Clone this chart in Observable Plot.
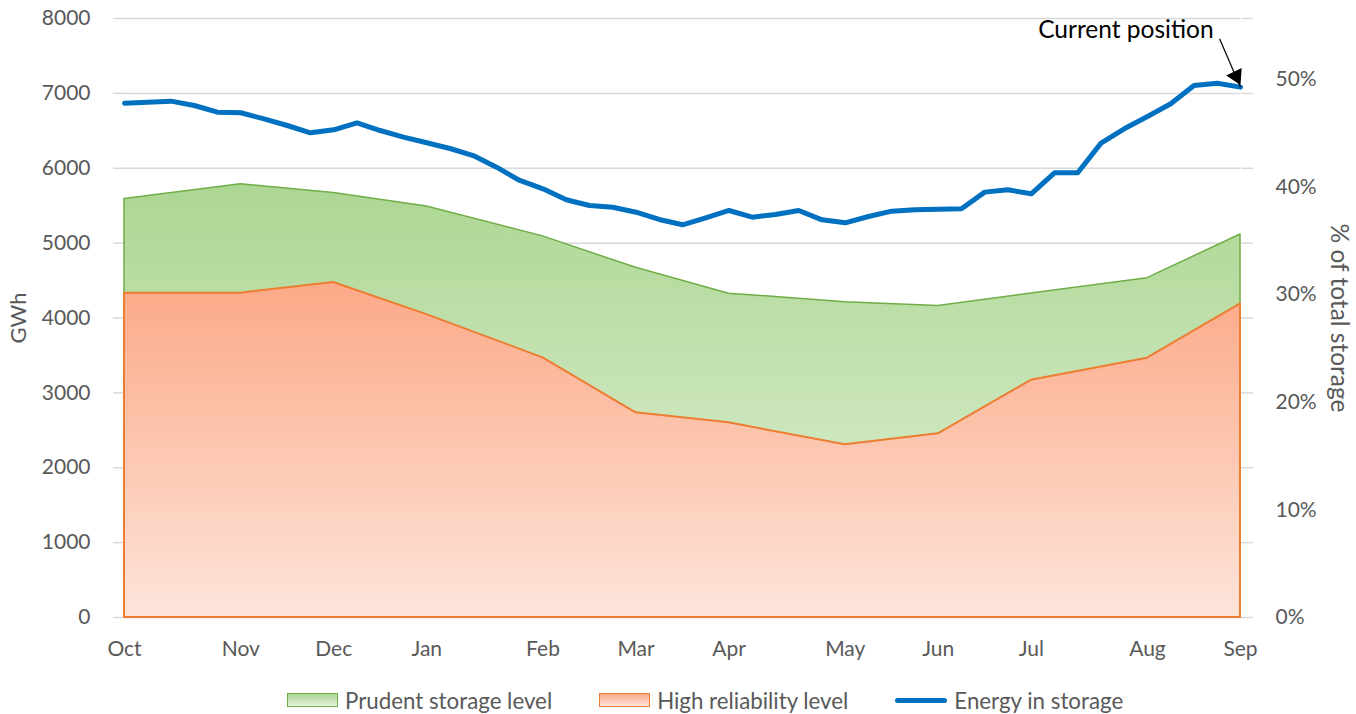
<!DOCTYPE html>
<html>
<head>
<meta charset="utf-8">
<script src="https://cdn.jsdelivr.net/npm/d3@7"></script>
<script src="https://cdn.jsdelivr.net/npm/@observablehq/plot@0.6"></script>
<style>
  body { margin: 0; background: #fff; font-family: Lato, "Open Sans", sans-serif; }
  #wrap { position: relative; width: 1356px; height: 714px; overflow: hidden; }
  #legend { position: absolute; left: 287px; top: 688px; height: 24px; display: flex; align-items: center; gap: 47px; font-size: 22.3px; color: #595959; white-space: nowrap; }
  .item { display: flex; align-items: center; gap: 7px; }
  .sw { width: 49px; height: 12px; }
  .sw.green { border: 1.5px solid #70ad47; background: linear-gradient(#acd692, #e4f2dc); }
  .sw.orange { border: 1.5px solid #ed7d31; background: linear-gradient(#fca987, #fde4da); }
  .ln { width: 52px; height: 5px; border-radius: 3px; background: #0070c0; }
</style>
</head>
<body>
<div id="wrap">
  <div id="chart"></div>
  <div id="legend">
    <div class="item"><div class="sw green"></div><span>Prudent storage level</span></div>
    <div class="item"><div class="sw orange"></div><span>High reliability level</span></div>
    <div class="item"><div class="ln"></div><span>Energy in storage</span></div>
  </div>
</div>
<script>
// ---- data ----
const monthLabels = ["Oct","Nov","Dec","Jan","Feb","Mar","Apr","May","Jun","Jul","Aug","Sep"];
const monthWeek = [0,5,9,13,18,22,26,31,35,39,44,48];
const prudent = [5590,5785,5670,5490,5090,4670,4325,4212,4160,4327,4532,5115];
const highReliability = [4332,4332,4474,4045,3468,2734,2600,2306,2453,3168,3463,4190];
const storage = [6869,6883,6896,6838,6749,6741,6660,6571,6473,6513,
                 6607,6504,6415,6340,6264,6170,6014,5837,5725,5579,
                 5503,5480,5413,5316,5245,5338,5436,5347,5382,5436,
                 5311,5271,5356,5427,5445,5454,5458,5681,5712,5659,
                 5939,5939,6335,6527,6691,6861,7105,7136,7083];
const yTicks = [0,1000,2000,3000,4000,5000,6000,7000,8000];
const pctTicks = [0,10,20,30,40,50];
const totalStorage = 14380; // GWh equivalent of 100%
const annotation = [{label: "Current position", week: 47.1, value: 7729}];

// ---- tables ----
const storageData = storage.map((v, i) => ({week: i, value: v}));
const monthData = monthWeek.map((w, i) => ({week: w, prudent: prudent[i], high: highReliability[i]}));
const lastPoint = storageData[storageData.length - 1];

const NS = "http://www.w3.org/2000/svg";
function defsMark() {
  const g = document.createElementNS(NS, "g");
  const defs = document.createElementNS(NS, "defs");
  const grads = [["gradGreen", "#acd692", "#e4f2dc"], ["gradOrange", "#fca987", "#fde4da"]];
  for (const [id, c0, c1] of grads) {
    const lg = document.createElementNS(NS, "linearGradient");
    lg.setAttribute("id", id);
    lg.setAttribute("x1", "0"); lg.setAttribute("y1", "0");
    lg.setAttribute("x2", "0"); lg.setAttribute("y2", "1");
    const s0 = document.createElementNS(NS, "stop");
    s0.setAttribute("offset", "0"); s0.setAttribute("stop-color", c0);
    const s1 = document.createElementNS(NS, "stop");
    s1.setAttribute("offset", "1"); s1.setAttribute("stop-color", c1);
    lg.appendChild(s0); lg.appendChild(s1);
    defs.appendChild(lg);
  }
  g.appendChild(defs);
  return g;
}

const chart = Plot.plot({
  width: 1356,
  height: 672,
  marginLeft: 124,
  marginRight: 116,
  marginTop: 18,
  marginBottom: 55,
  style: {fontFamily: "Lato, 'Open Sans', sans-serif", fontSize: "21px", color: "#595959", background: "#fff", overflow: "visible"},
  x: {domain: [0, 48]},
  y: {domain: [0, 8000]},
  marks: [
    defsMark,
    Plot.gridY({ticks: yTicks, stroke: "#d9d9d9", strokeOpacity: 1, strokeWidth: 1.5}),
    Plot.axisY({ticks: yTicks, anchor: "left", tickSize: 11, tickPadding: 23, stroke: "#d9d9d9", strokeOpacity: 1, strokeWidth: 1.5, fill: "#595959", fontSize: 21, label: null, tickFormat: d => String(d)}),
    Plot.axisY({ticks: yTicks, anchor: "right", tickSize: 12, stroke: "#d9d9d9", strokeOpacity: 1, strokeWidth: 1.5, label: null, tickFormat: () => ""}),
    Plot.axisY({ticks: pctTicks.map(p => p / 100 * totalStorage), anchor: "right", tickSize: 0, tickPadding: 35, fill: "#595959", fontSize: 21, label: null, tickFormat: d => Math.round(d / totalStorage * 100) + "%"}),
    Plot.axisX({ticks: monthWeek, tickSize: 0, tickPadding: 24, fill: "#595959", fontSize: 21, label: null, tickFormat: d => monthLabels[monthWeek.indexOf(d)]}),
    Plot.areaY(monthData, {x: "week", y: "prudent", fill: "url(#gradGreen)", stroke: "#70ad47", strokeWidth: 1.5}),
    Plot.areaY(monthData, {x: "week", y: "high", fill: "url(#gradOrange)", stroke: "#ed7d31", strokeWidth: 2}),
    Plot.line(storageData, {x: "week", y: "value", stroke: "#0070c0", strokeWidth: 5, strokeLinecap: "round", strokeLinejoin: "round"}),
    Plot.text(["GWh"], {text: d => d, frameAnchor: "left", textAnchor: "middle", rotate: -90, dx: -106, fill: "#595959", fontSize: 22}),
    Plot.text(["% of total storage"], {text: d => d, frameAnchor: "right", textAnchor: "middle", rotate: 90, dx: 98, fill: "#595959", fontSize: 24.5}),
    Plot.link(annotation, {x1: "week", y1: "value", x2: () => lastPoint.week, y2: () => lastPoint.value, stroke: "black", strokeWidth: 1.2}),
    Plot.dot([lastPoint], {x: "week", y: "value", symbol: "triangle", r: 6.4, fill: "black", stroke: "none", rotate: 154, dx: -4.4, dy: -11}),
    Plot.text(annotation, {x: "week", y: "value", text: "label", dx: -6, dy: -9, textAnchor: "end", fill: "black", fontSize: 24.5})
  ]
});
document.getElementById("chart").appendChild(chart);
</script>
</body>
</html>
